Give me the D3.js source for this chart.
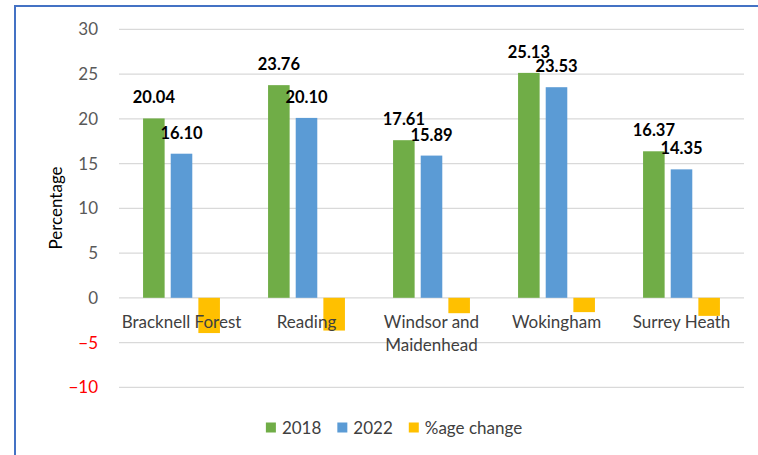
<!DOCTYPE html>
<html lang="en">

<head>
    <meta charset="UTF-8">
    <script src="https://d3js.org/d3.v7.min.js"></script>
    <title>Percentage by area</title>
    <style>
        body { margin: 0; background: #fff; }
        text { font-family: Lato, "Open Sans", sans-serif; }
        .grid-line { stroke: #d9d9d9; stroke-width: 1.3px; }
    </style>
</head>

<body>
    <div id="chart"></div>
    <script>
        // Data
        var categories = ["Bracknell Forest", "Reading", "Windsor and Maidenhead", "Wokingham", "Surrey Heath"];
        var seriesNames = ["2018", "2022", "%age change"];
        var values2018 = [20.04, 23.76, 17.61, 25.13, 16.37];
        var values2022 = [16.10, 20.10, 15.89, 23.53, 14.35];
        var valuesChange = [-3.94, -3.66, -1.72, -1.60, -2.02];
        var yTicks = [-10, -5, 0, 5, 10, 15, 20, 25, 30];
        var colors = ["#70ad47", "#5b9bd5", "#ffc000"];

        var width = 758, height = 455;
        var plotLeft = 119, plotRight = 744;

        // Building rows for the grouped bars
        var rows = categories.map(function (c, i) {
            return { cat: c, vals: [values2018[i], values2022[i], valuesChange[i]] };
        });

        var svg = d3.select("#chart")
            .append("svg")
            .attr("width", width)
            .attr("height", height);

        // Frame of the chart (only left and top edges are visible)
        svg.append("path")
            .attr("d", "M15,455 L15,6 L758,6")
            .attr("fill", "none")
            .attr("stroke", "#4472c4")
            .attr("stroke-width", 2);

        // Scales
        var x0 = d3.scaleBand()
            .domain(categories)
            .range([plotLeft, plotRight])
            .paddingInner(0.385)
            .paddingOuter(0.1925);

        var x1 = d3.scaleBand()
            .domain(d3.range(seriesNames.length))
            .range([0, x0.bandwidth()])
            .paddingInner(0.22);

        var y = d3.scaleLinear()
            .domain([-10, 30])
            .range([387.3, 29.3]);

        // Horizontal grid lines
        svg.append("g")
            .selectAll("line")
            .data(yTicks)
            .enter().append("line")
            .attr("class", "grid-line")
            .attr("x1", plotLeft)
            .attr("x2", plotRight)
            .attr("y1", function (d) { return y(d); })
            .attr("y2", function (d) { return y(d); });

        // Y axis labels
        var yAxis = d3.axisLeft(y)
            .tickValues(yTicks)
            .tickSize(0)
            .tickPadding(21);

        var gy = svg.append("g")
            .attr("transform", "translate(" + plotLeft + ",0)")
            .call(yAxis);
        gy.select(".domain").remove();
        gy.selectAll("text")
            .attr("font-family", "Lato")
            .attr("font-size", 17)
            .attr("fill", function (d) { return d < 0 ? "#ff0000" : "#595959"; });

        // Y axis title
        svg.append("text")
            .attr("transform", "translate(62,208) rotate(-90)")
            .attr("text-anchor", "middle")
            .attr("font-size", 17)
            .attr("fill", "#000")
            .text("Percentage");

        // Bars
        var groups = svg.append("g")
            .selectAll("g")
            .data(rows)
            .enter().append("g")
            .attr("transform", function (d) { return "translate(" + x0(d.cat) + ",0)"; });

        groups.selectAll("rect")
            .data(function (d) { return d.vals; })
            .enter().append("rect")
            .attr("x", function (d, i) { return x1(i); })
            .attr("width", x1.bandwidth())
            .attr("y", function (d) { return y(Math.max(0, d)); })
            .attr("height", function (d) { return Math.abs(y(d) - y(0)); })
            .attr("fill", function (d, i) { return colors[i]; });

        // Value labels for 2018 and 2022
        groups.selectAll(".value")
            .data(function (d) { return d.vals.slice(0, 2); })
            .enter().append("text")
            .attr("class", "value")
            .attr("x", function (d, i) { return x1(i) + x1.bandwidth() / 2; })
            .attr("y", function (d) { return y(d) - 15; })
            .attr("text-anchor", "middle")
            .attr("font-size", 16.5)
            .attr("font-weight", "bold")
            .attr("fill", "#000")
            .text(function (d) { return d.toFixed(2); });

        // Category labels, wrapped when too wide for the band
        var step = x0.step();
        svg.append("g")
            .selectAll("text")
            .data(categories)
            .enter().append("text")
            .attr("x", function (d) { return x0(d) + x0.bandwidth() / 2; })
            .attr("y", 328)
            .attr("text-anchor", "middle")
            .attr("font-size", 17)
            .attr("fill", "#404040")
            .each(function (d) {
                var t = d3.select(this);
                var cx = +t.attr("x");
                t.text(d);
                if (this.getComputedTextLength() <= step + 5) return;
                var words = d.split(" ");
                var lines = [], line = [];
                t.text("");
                var probe = t.append("tspan");
                words.forEach(function (w) {
                    var test = line.concat(w).join(" ");
                    probe.text(test);
                    if (probe.node().getComputedTextLength() > step && line.length) {
                        lines.push(line.join(" "));
                        line = [w];
                    } else {
                        line.push(w);
                    }
                });
                lines.push(line.join(" "));
                probe.remove();
                lines.forEach(function (l, i) {
                    t.append("tspan")
                        .attr("x", cx)
                        .attr("dy", i === 0 ? 0 : 22.5)
                        .text(l);
                });
            });

        // Legend
        var legend = svg.append("g");
        var lx = 0;
        var items = legend.selectAll("g")
            .data(seriesNames)
            .enter().append("g");
        items.append("rect")
            .attr("width", 10)
            .attr("height", 10)
            .attr("y", -5)
            .attr("fill", function (d, i) { return colors[i]; });
        items.append("text")
            .attr("x", 16)
            .attr("y", 6)
            .attr("font-size", 17)
            .attr("fill", "#404040")
            .text(function (d) { return d; });
        items.attr("transform", function () {
            var w = 16 + d3.select(this).select("text").node().getComputedTextLength();
            var tr = "translate(" + lx + ",0)";
            lx += w + 16;
            return tr;
        });
        var legendWidth = lx - 16;
        legend.attr("transform", "translate(" + (394 - legendWidth / 2) + ",427.5)");
    </script>
</body>

</html>
